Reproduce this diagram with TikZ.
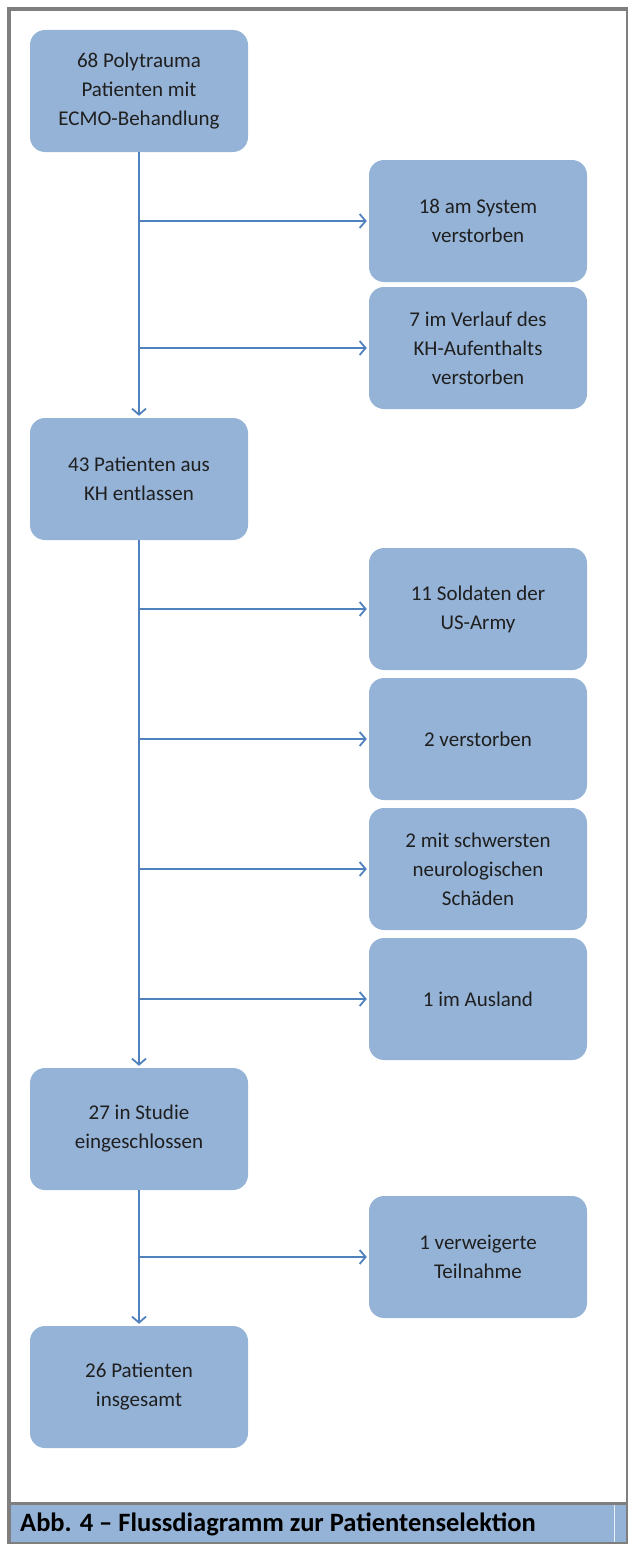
\documentclass[tikz,border=0pt]{standalone}
\usepackage{fontspec}
\setmainfont{Carlito}
\usetikzlibrary{arrows.meta}
\definecolor{boxblue}{HTML}{95B3D7}
\definecolor{lineblue}{HTML}{4F81BD}
\definecolor{framegray}{HTML}{7F7F7F}
\definecolor{textgray}{HTML}{1F1F1F}
\begin{document}
\begin{tikzpicture}
[x=1pt,y=-1pt,%%%%%%%%%%%%%%%%%%%%%%%%%%%%%%
box/.style={rectangle,rounded corners=15pt,fill=boxblue,minimum width=218pt,minimum height=122pt,
  align=center,text=textgray,font=\fontsize{21}{29}\selectfont},
flow/.style={draw=lineblue,line width=1.8pt,-{Straight Barb[length=6pt,width=14pt]},shorten >=2pt},
]%%%%%%%%%%%%%%%%%%%%%%%%%%%%%%
\useasboundingbox (0,0) rectangle (628,1544);

% frame and caption
\fill[boxblue] (11,1505) rectangle (627,1543);
\draw[white!80!boxblue,line width=0.8pt] (614,1505) -- (614,1543);
\draw[framegray,line width=1.2pt] (627,9) -- (627,1543) -- (11,1543);
\draw[framegray,line width=3.5pt] (9,1544) -- (9,9) -- (628,9);
\draw[framegray,line width=3pt] (9,1503.5) -- (627,1503.5);
\node[anchor=west,inner sep=0pt,font=\fontsize{26.5}{30}\selectfont\bfseries] (caption) at (20,1524)
  {Abb. 4 -- Flussdiagramm zur Patientenselektion};

% main column
\node[box] (start) at (139,91) {68 Polytrauma\\Patienten mit\\ECMO-Behandlung};
\node[box] (entl) at (139,479) {43 Patienten aus\\KH entlassen};
\node[box] (studie) at (139,1129) {27 in Studie\\eingeschlossen};
\node[box] (gesamt) at (139,1387) {26 Patienten\\insgesamt};

% side column
\node[box] (sys) at (478,221) {18 am System\\verstorben};
\node[box] (verl) at (478,348) {7 im Verlauf des\\KH-Aufenthalts\\verstorben};
\node[box] (army) at (478,609) {11 Soldaten der\\US-Army};
\node[box] (verst) at (478,739) {2 verstorben};
\node[box] (neuro) at (478,869) {2 mit schwersten\\neurologischen\\Schäden};
\node[box] (ausl) at (478,999) {1 im Ausland};
\node[box] (verw) at (478,1257) {1 verweigerte\\Teilnahme};

\draw[flow] (start) -- (entl);
\draw[flow] (entl) -- (studie);
\draw[flow] (studie) -- (gesamt);

\foreach \a/\b in {start/sys,start/verl,entl/army,entl/verst,entl/neuro,entl/ausl,studie/verw}
  \draw[flow] (\a.south |- \b) -- (\b.west);
\end{tikzpicture}
\end{document}
